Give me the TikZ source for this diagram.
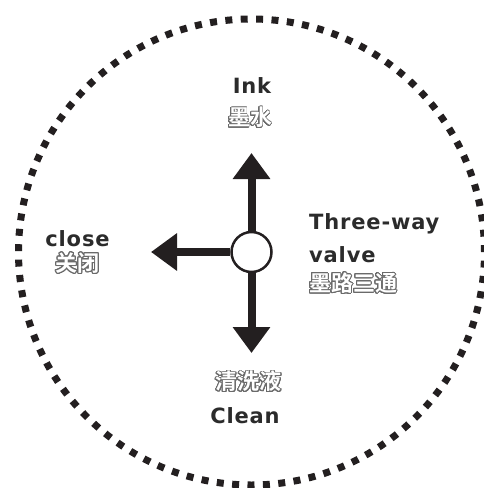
\documentclass[tikz,border=0pt]{standalone}
\usepackage{fontspec}
\usepackage{contour}
\usetikzlibrary{arrows.meta}
\newfontfamily\lblfont[LetterSpace=4]{DejaVu Sans Bold}
\newfontfamily\cjkfont{Noto Sans CJK SC Bold}
\definecolor{inkc}{HTML}{231F20}
\definecolor{txtc}{HTML}{2B2B2B}
\definecolor{cjkline}{HTML}{6A6A6A}
\contourlength{0.9pt}
\contournumber{24}
\newcommand{\hollow}[1]{\contour{cjkline}{\textcolor{white}{#1}}}
\tikzset{
  lbl/.style={font=\lblfont\fontsize{21}{24}\selectfont, text=txtc, inner sep=0pt},
  cjk/.style={font=\cjkfont\fontsize{22}{24}\selectfont, inner sep=0pt},
  arr/.style={line width=8pt, draw=inkc, -{Triangle[length=26pt,width=36pt]}},
  valvebox/.style={circle, draw=inkc, line width=2.5pt, fill=white, minimum size=40pt, inner sep=0pt},
  rim/.style={draw=inkc, line width=7pt, dash pattern=on 7pt off 8.41pt}
}
\begin{document}
\begin{tikzpicture}[x=1pt,y=-1pt]
\useasboundingbox (0,0) rectangle (483,488);
\coordinate (c) at (251.5,252);
\draw[rim] (c) circle[radius=233pt];
\coordinate (tu) at (251.5,153);
\coordinate (td) at (251.5,353);
\coordinate (tl) at (151,252);
\node[valvebox] (v) at (c) {};
\draw[arr] (v.north) -- (tu);
\draw[arr] (v.south) -- (td);
\draw[arr] (v.west) -- (tl);
\node[lbl, anchor=base] (ink) at (252,93) {Ink};
\node[cjk] (inkc) at (250,118) {\hollow{墨水}};
\node[lbl, anchor=base west] (tw) at (309,229) {Three-way};
\node[lbl, anchor=base west] (vv) at (309,262) {valve};
\node[cjk, anchor=west] (vc) at (309,283.5) {\hollow{墨路三通}};
\node[lbl, anchor=base] (cl) at (77.5,246) {close};
\node[cjk] (clc) at (77.5,263.5) {\hollow{关闭}};
\node[cjk] (cnc) at (248.5,382) {\hollow{清洗液}};
\node[lbl, anchor=base] (cn) at (245,423) {Clean};
\end{tikzpicture}
\end{document}
